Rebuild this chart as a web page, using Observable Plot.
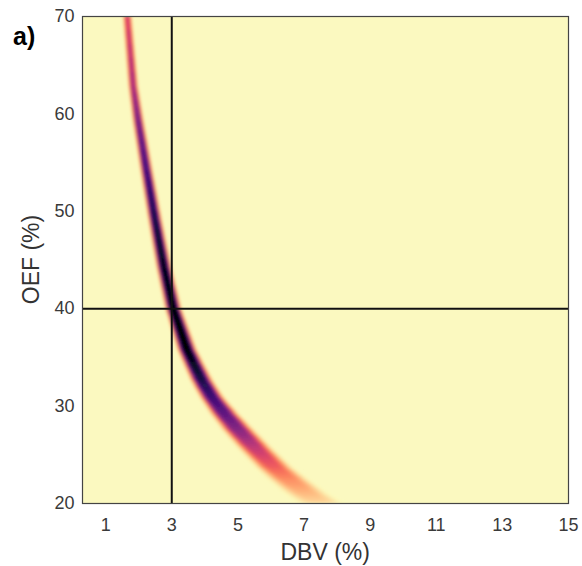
<!DOCTYPE html>
<html><head><meta charset="utf-8">
<script src="https://cdn.jsdelivr.net/npm/d3@7"></script>
<script src="https://cdn.jsdelivr.net/npm/@observablehq/plot@0.6"></script>
<style>
html,body{margin:0;padding:0;background:#fff;}
#wrap{position:relative;width:582px;height:566px;font-family:"Liberation Sans",Arial,Helvetica,sans-serif;color:#333;}
.lbl{position:absolute;white-space:nowrap;line-height:1;}
</style></head><body>
<div id="wrap"></div>
<script>
// ---- data ----
const oef = [70, 62.8, 59.3, 54.2, 49.1, 44.2, 40.0, 35.7, 32.6, 30.9, 29.2, 27.5, 25.7, 23.7, 22.4, 21.0, 20.0];
const dbv = [1.67, 1.85, 2.00, 2.25, 2.51, 2.78, 3.06, 3.48, 3.92, 4.22, 4.60, 5.03, 5.52, 6.10, 6.55, 7.08, 7.52];
const likelihood = [0.4, 0.52, 0.64, 0.77, 0.88, 0.96, 1.0, 1.0, 0.88, 0.8, 0.72, 0.62, 0.48, 0.34, 0.24, 0.15, 0.08];
const spread = [0.16, 0.17, 0.19, 0.21, 0.23, 0.25, 0.27, 0.32, 0.37, 0.4, 0.46, 0.52, 0.56, 0.6, 0.66, 0.72, 0.78];
const trueDBV = 3;
const trueOEF = 40;
const xTicks = [1, 3, 5, 7, 9, 11, 13, 15];
const yTicks = [20, 30, 40, 50, 60, 70];
const xDomain = [0.3, 15];
const yDomain = [20, 70];

// ---- band layers drawn along the polyline of the curve arrays ----
const levels = [1.0, 0.9, 0.8, 0.7, 0.6, 0.5, 0.4, 0.3, 0.2];
const SUB = 5; // sub-pieces per straight segment, only for smooth shading
function layer(k) {
  const rows = [];
  let id = 0;
  for (let i = 0; i < oef.length - 1; i++) {
    for (let s = 0; s < SUB; s++) {
      const a = s / SUB, b = (s + 1) / SUB, m = (a + b) / 2;
      const L = likelihood[i] + (likelihood[i + 1] - likelihood[i]) * m;
      const v = 1 - L * Math.exp(-3 * Math.pow(k, 4));
      for (const t of [a, b]) {
        const y = oef[i] + (oef[i + 1] - oef[i]) * t;
        const x = dbv[i] + (dbv[i + 1] - dbv[i]) * t;
        const w = spread[i] + (spread[i + 1] - spread[i]) * t;
        rows.push({seg: id, y, x1: x - k * w, x2: x + k * w, v});
      }
      id++;
    }
  }
  return rows;
}

const W = 582, H = 566, mL = 82, mR = 14, mT = 16, mB = 63;
const bg = "#fbf9c0";

const chart = Plot.plot({
  width: W, height: H,
  marginLeft: mL, marginRight: mR, marginTop: mT, marginBottom: mB,
  style: {fontFamily: '"Liberation Sans", Arial, sans-serif', fontSize: "18px", color: "#3a3a3a", background: "transparent"},
  x: {domain: xDomain, ticks: xTicks, tickSize: 0, tickPadding: 15, label: null},
  y: {domain: yDomain, ticks: yTicks, tickSize: 0, tickPadding: 8, label: null},
  color: {type: "linear", scheme: "magma", domain: [0, 1]},
  marks: [
    Plot.frame({fill: bg, stroke: "none"}),
    ...levels.map(k => Plot.areaX(layer(k), {y: "y", x1: "x1", x2: "x2", z: "seg", fill: "v", curve: "linear"})),
    Plot.ruleX([trueDBV], {stroke: "#111", strokeWidth: 2}),
    Plot.ruleY([trueOEF], {stroke: "#111", strokeWidth: 2}),
    Plot.frame({stroke: "#444", strokeWidth: 1.2})
  ]
});

const wrap = document.getElementById("wrap");
wrap.appendChild(chart);

// blur + clip the band
const svgEl = chart.tagName.toLowerCase() === "svg" ? chart : chart.querySelector("svg");
const svg = d3.select(svgEl);
const defs = svg.insert("defs", ":first-child");
defs.append("filter").attr("id", "bandBlur").attr("x", "-20%").attr("y", "-20%").attr("width", "140%").attr("height", "140%")
  .append("feGaussianBlur").attr("stdDeviation", 1.5);
defs.append("clipPath").attr("id", "frameClip").append("rect")
  .attr("x", mL).attr("y", mT).attr("width", W - mL - mR).attr("height", H - mT - mB);
const areas = svg.selectAll('g[aria-label="area"]').nodes();
if (areas.length) {
  const g = document.createElementNS("http://www.w3.org/2000/svg", "g");
  areas[0].parentNode.insertBefore(g, areas[0]);
  areas.forEach(n => g.appendChild(n));
  g.setAttribute("filter", "url(#bandBlur)");
  g.setAttribute("clip-path", "url(#frameClip)");
}

// labels
function addLabel(text, css) {
  const d = document.createElement("div");
  d.className = "lbl";
  d.textContent = text;
  Object.assign(d.style, css);
  wrap.appendChild(d);
  return d;
}
addLabel("a)", {left: "13px", top: "24px", fontSize: "25px", fontWeight: "bold", color: "#000"});
const xl = addLabel("DBV (%)", {fontSize: "23px"});
xl.style.left = ((mL + W - mR) / 2 - xl.offsetWidth / 2) + "px";
xl.style.top = "541px";
const yl = addLabel("OEF (%)", {fontSize: "23px"});
const yw = yl.offsetWidth, yh = yl.offsetHeight;
yl.style.left = (31 - yw / 2) + "px";
yl.style.top = ((mT + H - mB) / 2 - yh / 2) + "px";
yl.style.transform = "rotate(-90deg)";
</script>
</body></html>
